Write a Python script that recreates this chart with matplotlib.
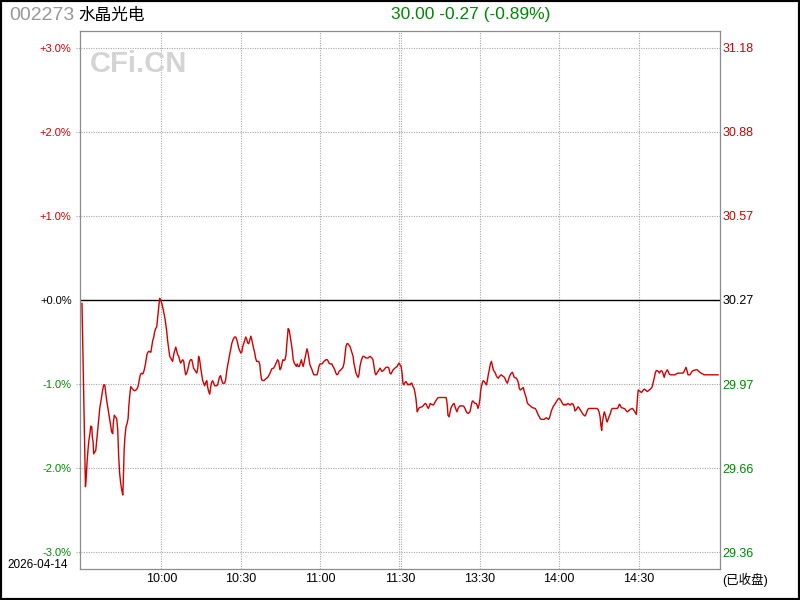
import matplotlib
matplotlib.use('Agg')
import matplotlib.pyplot as plt
from matplotlib.patches import Rectangle

plt.rcParams['font.family'] = ['Liberation Sans', 'Noto Sans CJK SC']

# Stock header
code = '002273'
name = '水晶光电'
quote_text = '30.00 -0.27 (-0.89%)'
trade_date = '2026-04-14'
status_text = '(已收盘)'
prev_close = 30.27

# Time axis (minutes since 9:30, lunch break removed)
tick_minutes = [30, 60, 90, 120, 150, 180, 210]
tick_labels = ['10:00', '10:30', '11:00', '11:30', '13:30', '14:00', '14:30']

# Percent axis
pct_ticks = [3, 2, 1, 0, -1, -2, -3]
pct_labels = ['+3.0%', '+2.0%', '+1.0%', '+0.0%', '-1.0%', '-2.0%', '-3.0%']
price_labels = ['31.18', '30.88', '30.57', '30.27', '29.97', '29.66', '29.36']

# Morning session trace (minute, % change vs prev close)
am_min = [0.0, 0.4, 0.9, 1.3, 1.5, 1.9, 2.3, 2.6, 3.0, 3.3,
          3.7, 3.9, 4.2, 4.4, 4.8, 5.2, 5.5, 5.9, 6.3, 6.7,
          7.0, 7.4, 7.8, 8.2, 8.6, 8.9, 9.3, 9.7, 10.1, 10.4,
          10.8, 11.2, 11.6, 11.8, 12.2, 12.6, 13.1, 13.5, 13.8, 14.2,
          14.6, 15.0, 15.4, 15.6, 15.9, 16.2, 16.6, 17.0, 17.4, 17.7,
          18.1, 18.4, 18.9, 19.4, 19.9, 20.4, 20.9, 21.3, 21.6, 22.0,
          22.4, 22.8, 23.1, 23.5, 23.9, 24.2, 24.5, 24.9, 25.3, 25.7,
          26.0, 26.3, 26.7, 27.1, 27.4, 27.8, 28.2, 28.6, 28.9, 29.3,
          29.7, 30.1, 30.7, 31.2, 31.6, 32.0, 32.3, 32.7, 33.1, 33.5,
          33.8, 34.2, 34.6, 35.0, 35.4, 35.7, 36.1, 36.5, 36.9, 37.2,
          37.6, 38.0, 38.4, 38.7, 39.1, 39.5, 39.9, 40.3, 40.6, 41.0,
          41.4, 41.8, 42.1, 42.5, 42.9, 43.3, 43.7, 44.0, 44.4, 44.8,
          45.2, 45.5, 45.9, 46.3, 46.7, 47.1, 47.4, 47.8, 48.2, 48.6,
          48.9, 49.3, 49.7, 50.1, 50.8, 51.2, 51.6, 52.0, 52.3, 52.7,
          53.1, 53.8, 54.2, 54.6, 55.0, 55.4, 55.7, 56.1, 56.5, 56.9,
          57.2, 57.6, 58.0, 58.4, 58.8, 59.1, 59.5, 59.9, 60.3, 60.6,
          61.0, 61.4, 61.8, 62.2, 62.5, 62.9, 63.3, 63.7, 64.0, 64.4,
          64.8, 65.2, 65.5, 65.9, 66.7, 67.1, 67.4, 67.8, 68.6, 69.3,
          70.1, 70.8, 71.6, 72.3, 72.7, 73.5, 73.8, 74.2, 74.7, 75.1,
          75.5, 75.8, 76.2, 76.6, 77.0, 77.2, 77.6, 77.8, 78.2, 78.6,
          79.0, 79.4, 79.7, 80.1, 80.5, 80.9, 81.2, 81.6, 82.0, 82.4,
          82.8, 83.1, 83.5, 83.9, 84.3, 84.6, 84.9, 85.3, 85.7, 86.0,
          86.4, 86.8, 87.2, 87.5, 88.7, 89.1, 89.4, 89.8, 90.6, 91.3,
          92.1, 92.5, 92.8, 93.2, 93.6, 94.3, 94.7, 95.1, 95.5, 95.8,
          96.2, 96.6, 97.0, 97.7, 98.5, 98.9, 99.2, 99.6, 100.0, 100.4,
          100.8, 101.1, 101.5, 101.9, 102.3, 102.6, 103.0, 103.4, 103.8, 104.2,
          104.5, 104.9, 105.3, 105.7, 106.0, 106.4, 107.2, 107.9, 108.7, 109.4,
          109.8, 110.2, 110.6, 110.9, 111.7, 112.5, 112.8, 113.2, 114.0, 114.7,
          115.5, 115.8, 116.2, 116.6, 117.4, 118.1, 118.9, 119.6, 120.0]
am_pct = [-0.04, -0.71, -1.55, -2.22, -2.16, -1.94, -1.77, -1.67, -1.59, -1.50,
          -1.51, -1.63, -1.69, -1.83, -1.81, -1.79, -1.69, -1.55, -1.41, -1.29,
          -1.23, -1.15, -1.07, -1.01, -1.01, -1.09, -1.19, -1.27, -1.35, -1.41,
          -1.49, -1.57, -1.59, -1.47, -1.37, -1.39, -1.41, -1.55, -1.83, -2.06,
          -2.18, -2.26, -2.32, -2.14, -1.79, -1.63, -1.51, -1.47, -1.41, -1.25,
          -1.11, -1.03, -1.05, -1.07, -1.08, -1.07, -1.05, -1.01, -0.95, -0.89,
          -0.87, -0.88, -0.87, -0.83, -0.77, -0.71, -0.65, -0.62, -0.61, -0.62,
          -0.62, -0.56, -0.48, -0.44, -0.38, -0.34, -0.32, -0.20, -0.10, 0.02,
          0.00, -0.04, -0.12, -0.20, -0.28, -0.38, -0.48, -0.58, -0.67, -0.69,
          -0.71, -0.73, -0.65, -0.60, -0.56, -0.60, -0.65, -0.67, -0.72, -0.75,
          -0.73, -0.71, -0.73, -0.81, -0.89, -0.87, -0.83, -0.77, -0.73, -0.71,
          -0.71, -0.76, -0.81, -0.83, -0.85, -0.87, -0.81, -0.67, -0.71, -0.81,
          -0.89, -0.95, -0.99, -1.02, -0.98, -0.96, -1.03, -1.09, -1.12, -1.03,
          -0.98, -0.96, -0.99, -1.02, -1.02, -1.01, -0.95, -0.91, -0.90, -0.95,
          -0.99, -0.99, -0.95, -0.85, -0.77, -0.71, -0.65, -0.59, -0.52, -0.48,
          -0.46, -0.44, -0.44, -0.47, -0.52, -0.57, -0.60, -0.63, -0.62, -0.56,
          -0.52, -0.48, -0.44, -0.47, -0.51, -0.52, -0.48, -0.43, -0.46, -0.52,
          -0.58, -0.63, -0.69, -0.73, -0.73, -0.77, -0.87, -0.95, -0.96, -0.94,
          -0.92, -0.88, -0.82, -0.81, -0.79, -0.73, -0.71, -0.73, -0.83, -0.81,
          -0.75, -0.71, -0.72, -0.71, -0.65, -0.56, -0.42, -0.34, -0.36, -0.44,
          -0.52, -0.61, -0.71, -0.75, -0.77, -0.79, -0.76, -0.79, -0.79, -0.75,
          -0.71, -0.76, -0.79, -0.73, -0.67, -0.63, -0.58, -0.63, -0.71, -0.77,
          -0.80, -0.83, -0.87, -0.89, -0.89, -0.84, -0.79, -0.76, -0.76, -0.73,
          -0.71, -0.71, -0.72, -0.75, -0.76, -0.76, -0.79, -0.81, -0.84, -0.87,
          -0.89, -0.88, -0.85, -0.83, -0.80, -0.75, -0.67, -0.55, -0.52, -0.52,
          -0.54, -0.55, -0.59, -0.63, -0.67, -0.75, -0.81, -0.87, -0.90, -0.92,
          -0.89, -0.79, -0.73, -0.69, -0.67, -0.67, -0.69, -0.69, -0.67, -0.69,
          -0.71, -0.79, -0.87, -0.89, -0.85, -0.81, -0.83, -0.85, -0.83, -0.80,
          -0.80, -0.81, -0.87, -0.88, -0.83, -0.81, -0.79, -0.75, -0.77]

# Afternoon session trace
pm_min = [120.4, 120.8, 121.1, 121.5, 121.9, 122.3, 123.0, 123.4, 123.8, 124.2,
          124.5, 124.9, 125.3, 125.7, 126.0, 126.3, 126.5, 126.9, 127.3, 128.4,
          129.2, 129.5, 129.9, 130.3, 130.7, 131.1, 131.4, 131.8, 132.6, 133.3,
          133.7, 134.1, 134.5, 137.4, 137.6, 137.9, 138.1, 138.5, 138.9, 139.2,
          139.6, 140.0, 140.4, 140.8, 141.1, 141.5, 141.9, 142.3, 142.6, 143.8,
          144.2, 144.5, 144.9, 145.3, 145.7, 146.4, 146.8, 147.2, 147.5, 148.3,
          148.7, 149.1, 149.4, 149.8, 150.2, 150.4, 150.7, 151.1, 151.4, 151.8,
          152.2, 152.6, 152.9, 153.3, 153.7, 154.1, 154.5, 154.8, 155.2, 155.6,
          156.0, 156.3, 156.7, 157.1, 157.5, 158.2, 159.0, 159.4, 159.7, 160.1,
          160.5, 160.9, 161.2, 161.6, 162.0, 162.4, 162.8, 163.1, 163.9, 164.3,
          164.7, 165.0, 165.4, 165.8, 166.5, 166.9, 167.3, 167.7, 168.0, 168.4,
          169.2, 169.9, 171.0, 171.4, 171.8, 172.2, 172.6, 172.9, 173.3, 174.4,
          174.8, 175.2, 175.6, 176.0, 176.3, 176.7, 177.1, 177.5, 177.9, 178.2,
          178.6, 179.2, 179.6, 180.0, 180.4, 180.8, 181.1, 181.5, 181.9, 182.3,
          182.6, 183.0, 183.4, 183.8, 184.2, 184.5, 184.9, 185.3, 185.7, 186.0,
          186.4, 186.8, 187.2, 187.5, 187.9, 188.3, 188.7, 189.1, 189.4, 189.8,
          190.2, 190.6, 190.9, 191.3, 194.3, 194.7, 195.1, 195.5, 195.8, 196.1,
          196.3, 196.7, 197.1, 197.5, 197.9, 198.2, 198.6, 199.0, 199.4, 199.7,
          200.1, 202.0, 202.4, 202.8, 203.1, 203.5, 204.6, 205.0, 205.4, 205.8,
          206.2, 206.9, 207.7, 208.0, 208.4, 208.8, 209.2, 209.4, 209.7, 209.9,
          210.3, 210.7, 211.1, 211.4, 211.8, 212.2, 213.0, 213.3, 214.1, 214.8,
          215.2, 215.6, 216.0, 216.3, 216.7, 217.1, 217.5, 217.9, 218.2, 218.6,
          219.0, 219.4, 219.7, 220.1, 220.5, 220.9, 221.2, 221.6, 222.0, 223.8,
          224.2, 224.9, 226.8, 227.2, 227.5, 227.9, 228.3, 228.7, 229.4, 229.8,
          230.2, 230.6, 231.7, 232.1, 232.8, 233.6, 234.3, 234.7, 240.0]
pm_pct = [-0.79, -0.87, -0.99, -1.01, -0.98, -0.97, -1.01, -1.00, -1.01, -0.99,
          -0.99, -1.03, -1.05, -1.11, -1.17, -1.27, -1.33, -1.30, -1.28, -1.27,
          -1.24, -1.23, -1.24, -1.27, -1.29, -1.26, -1.23, -1.24, -1.25, -1.21,
          -1.19, -1.17, -1.16, -1.16, -1.19, -1.27, -1.37, -1.39, -1.33, -1.29,
          -1.26, -1.24, -1.23, -1.27, -1.30, -1.33, -1.29, -1.27, -1.26, -1.26,
          -1.27, -1.29, -1.32, -1.34, -1.35, -1.33, -1.27, -1.21, -1.20, -1.23,
          -1.23, -1.25, -1.29, -1.25, -1.17, -1.09, -1.03, -0.98, -0.96, -0.97,
          -0.99, -1.01, -0.97, -0.89, -0.83, -0.76, -0.73, -0.77, -0.83, -0.85,
          -0.87, -0.90, -0.92, -0.93, -0.91, -0.89, -0.91, -0.92, -0.94, -0.97,
          -0.99, -0.95, -0.92, -0.89, -0.87, -0.86, -0.89, -0.92, -0.93, -0.95,
          -0.99, -1.05, -1.07, -1.06, -1.04, -1.09, -1.13, -1.17, -1.22, -1.24,
          -1.26, -1.28, -1.29, -1.31, -1.34, -1.37, -1.39, -1.41, -1.42, -1.42,
          -1.41, -1.40, -1.41, -1.42, -1.41, -1.37, -1.32, -1.29, -1.26, -1.25,
          -1.23, -1.20, -1.18, -1.17, -1.18, -1.20, -1.22, -1.24, -1.25, -1.24,
          -1.25, -1.24, -1.23, -1.24, -1.25, -1.24, -1.23, -1.24, -1.27, -1.32,
          -1.31, -1.29, -1.27, -1.28, -1.30, -1.32, -1.34, -1.36, -1.37, -1.38,
          -1.36, -1.32, -1.30, -1.29, -1.29, -1.30, -1.33, -1.39, -1.49, -1.55,
          -1.47, -1.39, -1.33, -1.37, -1.43, -1.45, -1.41, -1.38, -1.35, -1.31,
          -1.29, -1.29, -1.27, -1.24, -1.25, -1.28, -1.29, -1.30, -1.32, -1.33,
          -1.32, -1.30, -1.29, -1.30, -1.32, -1.34, -1.36, -1.27, -1.13, -1.07,
          -1.08, -1.09, -1.10, -1.09, -1.07, -1.06, -1.08, -1.09, -1.07, -1.05,
          -1.03, -0.97, -0.92, -0.87, -0.84, -0.84, -0.85, -0.87, -0.85, -0.84,
          -0.85, -0.89, -0.92, -0.87, -0.85, -0.83, -0.85, -0.88, -0.89, -0.89,
          -0.88, -0.87, -0.87, -0.85, -0.83, -0.80, -0.84, -0.89, -0.89, -0.87,
          -0.85, -0.84, -0.83, -0.83, -0.85, -0.87, -0.88, -0.89, -0.89]

red = '#d00000'
green = '#008800'
grid_c = '#a8a8a8'
dots = (0, (1, 1.2))

fig = plt.figure(figsize=(8, 6), dpi=100)
ax = fig.add_axes([80 / 800, 31 / 600, 640 / 800, 538 / 600])
ax.set_xlim(-0.75, 240.75)
ax.set_ylim(-3.2, 3.2)

# grid
for v in pct_ticks:
    if v == 0:
        continue
    ax.axhline(v, xmin=-0.007, xmax=1, color=grid_c, lw=0.8, ls=dots, clip_on=False, zorder=1)
for m in [30, 60, 90, 119.7, 120.3, 150, 180, 210]:
    ax.axvline(m, color=grid_c, lw=0.8, ls=dots, zorder=1)
ax.axhline(0, color='black', lw=1.0, zorder=2)

ax.plot(am_min + pm_min, am_pct + pm_pct, color=red, lw=1.0, zorder=3)

for s in ax.spines.values():
    s.set_color('#8c8c8c')
    s.set_linewidth(0.9)

ax.set_xticks(tick_minutes)
ax.set_xticklabels(tick_labels, fontsize=9)
ax.tick_params(axis='x', length=0, pad=3)

ax.set_yticks(pct_ticks)
ax.set_yticklabels(pct_labels, fontsize=8)
ax.tick_params(axis='y', length=0, pad=6)
for lab, v in zip(ax.get_yticklabels(), pct_ticks):
    lab.set_color(red if v > 0 else (green if v < 0 else 'black'))

ax2 = ax.twinx()
ax2.set_ylim(-3.2, 3.2)
ax2.set_yticks(pct_ticks)
ax2.set_yticklabels(price_labels, fontsize=9)
ax2.tick_params(axis='y', length=0, pad=2)
for lab, v in zip(ax2.get_yticklabels(), pct_ticks):
    lab.set_color(red if v > 0 else (green if v < 0 else 'black'))
for s in ax2.spines.values():
    s.set_visible(False)


def px(x, y):
    return x / 800, 1 - y / 600


fig.text(*px(9, 15.5), code, color='#999999', fontsize=14, ha='left', va='center')
fig.text(*px(78, 15.5), name, color='black', fontsize=12, ha='left', va='center')
fig.text(*px(471, 14.5), quote_text, color=green, fontsize=12.5, ha='center', va='center')
fig.text(*px(138, 64.5), 'CFi.CN', color='#d4d4d4', fontsize=21, fontweight='bold',
         ha='center', va='center', zorder=0)
fig.text(*px(7, 565), trade_date, color='black', fontsize=8.5, ha='left', va='center')
fig.text(*px(722, 580), status_text, color='black', fontsize=9, ha='left', va='center')

fig.patches.append(Rectangle((0, 0), 1, 1, transform=fig.transFigure, fill=False,
                             ec='black', lw=3))

fig.savefig('out.png', dpi=100)
